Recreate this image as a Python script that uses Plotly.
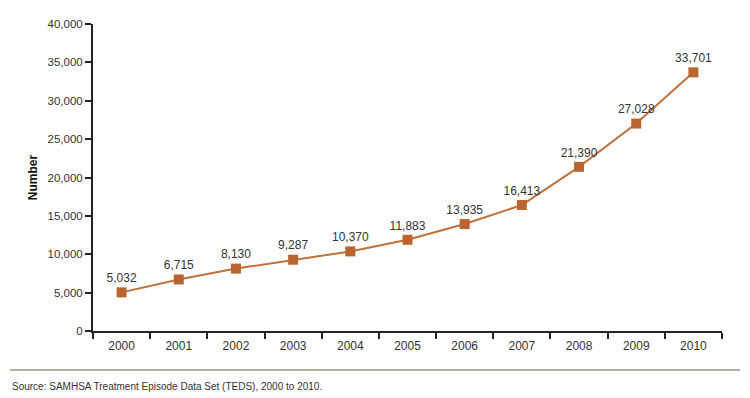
import plotly.graph_objects as go

years = ["2000", "2001", "2002", "2003", "2004", "2005", "2006", "2007", "2008", "2009", "2010"]
values = [5032, 6715, 8130, 9287, 10370, 11883, 13935, 16413, 21390, 27028, 33701]
y_ticks = [0, 5000, 10000, 15000, 20000, 25000, 30000, 35000, 40000]
y_tick_labels = ["0", "5,000", "10,000", "15,000", "20,000", "25,000", "30,000", "35,000", "40,000"]
source_text = "Source: SAMHSA Treatment Episode Data Set (TEDS), 2000 to 2010."

FONT = "Liberation Sans, Arial, sans-serif"

W, H = 750, 398
L, R, T, B = 93, 28, 24, 67
plot_h = H - T - B

fig = go.Figure()
fig.add_trace(go.Scatter(
    x=years, y=values, mode="lines+markers+text",
    line=dict(color="#c0703a", width=2),
    marker=dict(symbol="square", size=10, color="#b8652f"),
    text=[f"{v:,}" for v in values],
    textposition="top center",
    textfont=dict(family=FONT, size=12, color="#333333"),
    cliponaxis=False,
    hoverinfo="skip",
))

def py(px):
    return (H - B - px) / plot_h

fig.add_shape(type="line", xref="paper", yref="paper",
              x0=(10 - L) / (W - L - R), x1=(740 - L) / (W - L - R),
              y0=py(370), y1=py(370),
              line=dict(color="#8c9a80", width=1.5))
fig.add_annotation(text=source_text, xref="paper", yref="paper",
                   x=(10 - L) / (W - L - R), y=py(386), xanchor="left", yanchor="middle",
                   showarrow=False,
                   font=dict(family=FONT, size=10, color="#333333"))

fig.update_layout(
    width=W, height=H,
    margin=dict(l=L, r=R, t=T, b=B),
    plot_bgcolor="white", paper_bgcolor="white",
    showlegend=False,
    font=dict(family=FONT, size=12, color="#333333"),
    xaxis=dict(
        type="category", range=[-0.5, 10.5],
        showline=True, linecolor="#222222", linewidth=2,
        ticks="outside", tickson="boundaries", ticklen=6, tickwidth=1.5, tickcolor="#222222",
        showgrid=False, zeroline=False, fixedrange=True,
        ticklabelstandoff=3,
        tickfont=dict(family=FONT, size=12, color="#333333"),
    ),
    yaxis=dict(
        range=[0, 40000], tickvals=y_ticks, ticktext=y_tick_labels,
        showline=True, linecolor="#222222", linewidth=2,
        ticks="outside", ticklen=6, tickwidth=1.5, tickcolor="#222222",
        showgrid=False, zeroline=False, fixedrange=True,
        tickfont=dict(family=FONT, size=11.5, color="#333333"),
        title=dict(text="<b>Number</b>", standoff=7,
                   font=dict(family=FONT, size=12, color="#111111")),
    ),
)

fig.write_html("out.html", config={"displayModeBar": False},
               post_script="document.body.style.margin='0';document.body.style.padding='0';")
